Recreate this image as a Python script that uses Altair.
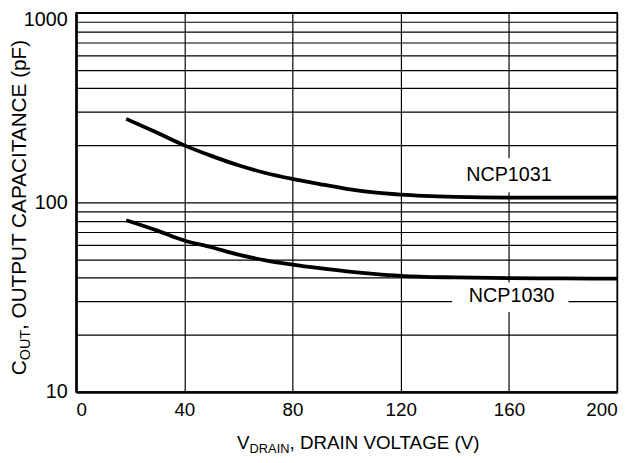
import altair as alt
import pandas as pd

# ---- data ----
vdrain = [18.5, 30, 40, 50, 60, 70, 80, 90, 100, 110, 120, 140, 160, 180, 200]
ncp1031 = [276, 233, 200, 176, 157, 143, 133, 125, 118, 113, 110, 107, 106, 106, 106]
ncp1030 = [80.5, 71, 63, 58, 53, 49.5, 47, 45, 43.3, 42, 41, 40.2, 39.9, 39.7, 39.6]

x_ticks = [0, 40, 80, 120, 160, 200]
y_grid = [10, 20, 30, 40, 50, 60, 70, 80, 90,
          100, 200, 300, 400, 500, 600, 700, 800, 900, 1000]
y_labels = [10, 100, 1000]

series_names = ["NCP1031", "NCP1030"]
label_x = [160, 161]
label_y = [139, 32]
box_x = [139, 139]
box_x2 = [182, 182]
box_y = [171, 37.8]
box_y2 = [113, 26.4]

FONT = "Liberation Sans"

rows = []
for v, a, b in zip(vdrain, ncp1031, ncp1030):
    rows.append({"v": v, "c": a, "s": "NCP1031"})
    rows.append({"v": v, "c": b, "s": "NCP1030"})
df = pd.DataFrame(rows)

lab = pd.DataFrame({"s": series_names, "lx": label_x, "ly": label_y,
                    "bx": box_x, "bx2": box_x2, "by": box_y, "by2": box_y2})

xs = alt.Scale(domain=[0, 200], nice=False, zero=False)
ys = alt.Scale(type="log", domain=[10, 1000], nice=False)

x_axis = alt.Axis(
    values=x_ticks, grid=True, ticks=False, title=None,
    labelFontSize=19, labelPadding=9, domainWidth=2.5, labelFlush=False,
    labelAlign={"condition": [{"test": "datum.value == 0", "value": "left"},
                              {"test": "datum.value == 200", "value": "right"}],
                "value": "center"},
)
label_expr = " || ".join(f"datum.value == {v}" for v in y_labels)
y_axis = alt.Axis(values=y_grid, grid=True, ticks=False, title=None,
                  labelFontSize=20, labelPadding=9, domainWidth=2.5,
                  labelExpr=f"({label_expr}) ? format(datum.value, 'd') : ''",
                  labelFlush=False,
                  labelOffset={"condition": {"test": "datum.value == 1000", "value": 7}, "value": 0})

lines = alt.Chart(df).mark_line(color="black", strokeWidth=3.8,
                                interpolate="monotone").encode(
    x=alt.X("v:Q", scale=xs, axis=x_axis),
    y=alt.Y("c:Q", scale=ys, axis=y_axis),
    detail="s:N",
)

boxes = alt.Chart(lab).mark_rect(color="white").encode(
    x=alt.X("bx:Q", scale=xs, axis=x_axis),
    x2="bx2:Q",
    y=alt.Y("by:Q", scale=ys, axis=y_axis),
    y2="by2:Q",
)

labels = alt.Chart(lab).mark_text(fontSize=20, font=FONT, color="black",
                                  align="center", baseline="middle").encode(
    x=alt.X("lx:Q", scale=xs, axis=x_axis),
    y=alt.Y("ly:Q", scale=ys, axis=y_axis),
    text="s:N",
)

one = pd.DataFrame({"k": [0]})

def txt(t, x, y, size, angle=0):
    kw = dict(text=t, fontSize=size, font=FONT, color="black",
              align="left", baseline="alphabetic")
    if angle:
        kw["angle"] = angle
    return alt.Chart(one).mark_text(**kw).encode(x=alt.value(x), y=alt.value(y))

# x title: V_DRAIN, DRAIN VOLTAGE (V)
xt1 = txt("V", 163, 442, 19)
xt2 = txt("DRAIN", 175.7, 446, 13)
xt3 = txt(", DRAIN VOLTAGE (V)", 216.1, 442, 19)

# y title: C_OUT, OUTPUT CAPACITANCE (pF)
yt1 = txt("C", -51, 367, 21, 270)
yt2 = txt("OUT", -47, 351.8, 14.5, 270)
yt3 = txt(", OUTPUT CAPACITANCE (pF)", -51, 321.2, 21, 270)

chart = alt.layer(boxes, lines, labels, xt1, xt2, xt3, yt1, yt2, yt3).properties(
    width=548, height=384,
    autosize=alt.AutoSizeParams(type="none"),
    padding={"left": 69, "top": 2, "right": 11, "bottom": 67},
).configure_view(
    stroke="black", strokeWidth=1.5
).configure_axis(
    labelFont=FONT, labelColor="black", domainColor="black",
    gridColor="black", gridWidth=1.2, gridOpacity=1,
)

chart.save("out.html", embed_options={"renderer": "svg", "actions": False})
